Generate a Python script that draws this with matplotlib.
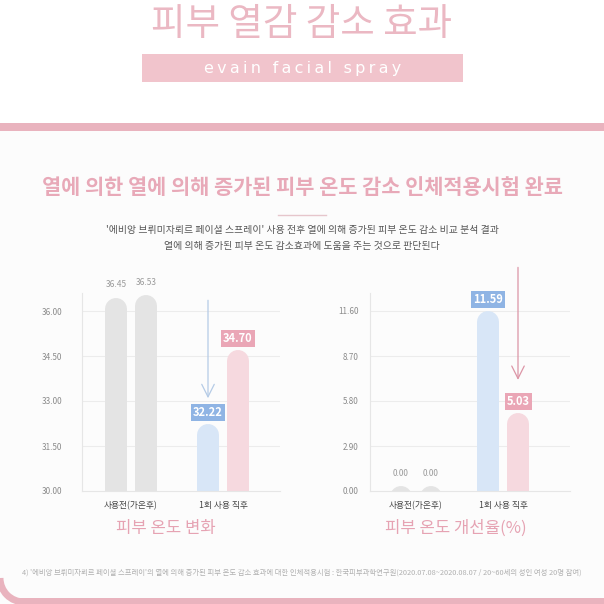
import matplotlib.pyplot as plt
from matplotlib.patches import Rectangle, Arc

plt.rcParams['font.family'] = ['Noto Sans CJK KR', 'DejaVu Sans']

# data
groups = ["사용전(가온후)", "1회 사용 직후"]
temp_vals = [[36.45, 36.53], [32.22, 34.70]]
temp_ticks = [30.00, 31.50, 33.00, 34.50, 36.00]
rate_vals = [[0.00, 0.00], [11.59, 5.03]]
rate_ticks = [0.00, 2.90, 5.80, 8.70, 11.60]

title = "피부 열감 감소 효과"
brand = "evain facial spray"
headline = "열에 의한 열에 의해 증가된 피부 온도 감소 인체적용시험 완료"
desc = ["'에비앙 브뤼미자뢰르 페이셜 스프레이' 사용 전후 열에 의해 증가된 피부 온도 감소 비교 분석 결과",
        "열에 의해 증가된 피부 온도 감소효과에 도움을 주는 것으로 판단된다"]
footer = ("4) '에비앙 브뤼미자뢰르 페이셜 스프레이'의 열에 의해 증가된 피부 온도 감소 효과에 대한 인체적용시험 : "
          "한국피부과학연구원(2020.07.08~2020.08.07 / 20~60세의 성인 여성 20명 참여)")
chart_titles = ["피부 온도 변화", "피부 온도 개선율(%)"]

PINK = "#e9b3be"
PINK_TXT = "#e6a3b3"
GRAY_BAR = "#e4e4e4"
BLUE_BAR = "#d8e6f7"
PINK_BAR = "#f6d9df"
BLUE_BOX = "#8fb4e4"
PINK_BOX = "#eaa6b6"

W = 604
fig = plt.figure(figsize=(6.04, 6.04), dpi=100)

# background / decoration layer in pixel coords
bg = fig.add_axes([0, 0, 1, 1])
bg.set_xlim(0, W)
bg.set_ylim(W, 0)
bg.axis("off")

bg.add_patch(Rectangle((-5, 127), W + 10, 480, facecolor="#fcfcfc", edgecolor="none"))
bg.add_patch(Rectangle((-5, 123), W + 10, 8, facecolor=PINK, edgecolor="none"))
bg.add_patch(Rectangle((20, 598), W, 8, facecolor=PINK, edgecolor="none"))
bg.add_patch(Arc((24, 578), 48, 48, theta1=90, theta2=180, color=PINK, lw=5))

bg.text(W / 2, 24, title, ha="center", va="center", fontsize=27, color="#ebb8c3",
        fontweight="light")
bg.add_patch(Rectangle((142, 54), 321, 28, facecolor="#f1c4cc", edgecolor="none"))
spaced = "\u2009".join(brand)
bg.text(W / 2 + 1, 68, spaced, ha="center", va="center", fontsize=11.5, color="white",
        family=["DejaVu Sans"])

bg.text(W / 2, 187, headline, ha="center", va="center", fontsize=15, color="#e8a9b8",
        fontweight="bold")
bg.plot([278, 326], [215, 215], color="#e6c6cc", lw=1)
bg.text(W / 2, 230, desc[0], ha="center", va="center", fontsize=7.1, color="#555555")
bg.text(W / 2, 246, desc[1], ha="center", va="center", fontsize=7.1, color="#555555")
bg.text(W / 2, 573, footer, ha="center", va="center", fontsize=5.3, color="#b0b0b0")


def draw_chart(rect, vals, ticks, unit_px, center0, label_pad, chart_title, title_x, arrow):
    ax = fig.add_axes(rect)
    ax_w_px = rect[2] * W
    ax_h_px = rect[3] * W
    lo = ticks[0]
    hi = lo + (ticks[-1] - lo) * 198 / 180
    ax.set_ylim(lo, hi)
    ax.set_xlim(-center0 / unit_px, (ax_w_px - center0) / unit_px)
    ax.set_yticks(ticks)
    ax.set_yticklabels([f"{t:.2f}" for t in ticks], fontsize=5.8, color="#8a8a8a")
    ax.tick_params(axis="y", length=0, pad=label_pad)
    ax.set_xticks(range(len(groups)))
    ax.set_xticklabels(groups, fontsize=6.3, color="#444444")
    ax.tick_params(axis="x", length=0, pad=7)
    for s in ["top", "right"]:
        ax.spines[s].set_visible(False)
    for s in ["left", "bottom"]:
        ax.spines[s].set_color("#e6e6e6")
        ax.spines[s].set_linewidth(0.8)
    ax.set_facecolor("none")
    for t in ticks[1:]:
        ax.axhline(t, color="#ececec", lw=0.8, zorder=0)

    dpp = (hi - lo) / ax_h_px  # data units per pixel
    bar_px = 22
    lw = bar_px * 72 / 100
    rad = bar_px / 2 * dpp
    off = 15 / unit_px
    colors = [[GRAY_BAR, GRAY_BAR], [BLUE_BAR, PINK_BAR]]
    for gi, pair in enumerate(vals):
        for bi, v in enumerate(pair):
            x = gi + (bi - 0.5) * 2 * off
            apex = max(v, lo + 5 * dpp)  # zero values still show a small nub
            ax.plot([x, x], [lo - rad * 2, apex - rad], color=colors[gi][bi], lw=lw,
                    solid_capstyle="round", zorder=2, clip_on=True)
            if gi == 0:
                ax.text(x, apex + 8 * dpp, f"{v:.2f}", ha="center", va="bottom",
                        fontsize=6, color="#9a9a9a", clip_on=False)
            else:
                box = BLUE_BOX if bi == 0 else PINK_BOX
                ax.text(x, v + 5 * dpp, f"{v:.2f}", ha="center", va="bottom",
                        fontsize=8, color="white", fontweight="bold",
                        bbox=dict(boxstyle="square,pad=0.18", fc=box, ec="none"),
                        clip_on=False, zorder=4)

    # arrow
    ai, a_from, a_to, a_col = arrow
    ax_x = 1 + (ai - 0.5) * 2 * off
    ax.annotate("", xy=(ax_x, a_to), xytext=(ax_x, a_from),
                arrowprops=dict(arrowstyle="->,head_length=0.9,head_width=0.45",
                                color=a_col, lw=0.9),
                annotation_clip=False, zorder=3)

    bg.text(title_x, 528, chart_title, ha="center", va="center", fontsize=12,
            color=PINK_TXT)
    return ax


# left chart: temperature
draw_chart([82 / W, (W - 491) / W, 198 / W, 198 / W], temp_vals, temp_ticks,
           92, 49, 14, chart_titles[0], 166,
           (0, temp_vals[0][0], temp_vals[1][0] + 0.78, "#b5cbe6"))

# right chart: improvement rate
draw_chart([370 / W, (W - 491) / W, 200 / W, 198 / W], rate_vals, rate_ticks,
           87, 46, 8, chart_titles[1], 456,
           (1, rate_vals[1][0] + 3.0, rate_vals[1][1] + 1.95, "#dc95a6"))

fig.savefig("out.png", dpi=100, facecolor="white")
